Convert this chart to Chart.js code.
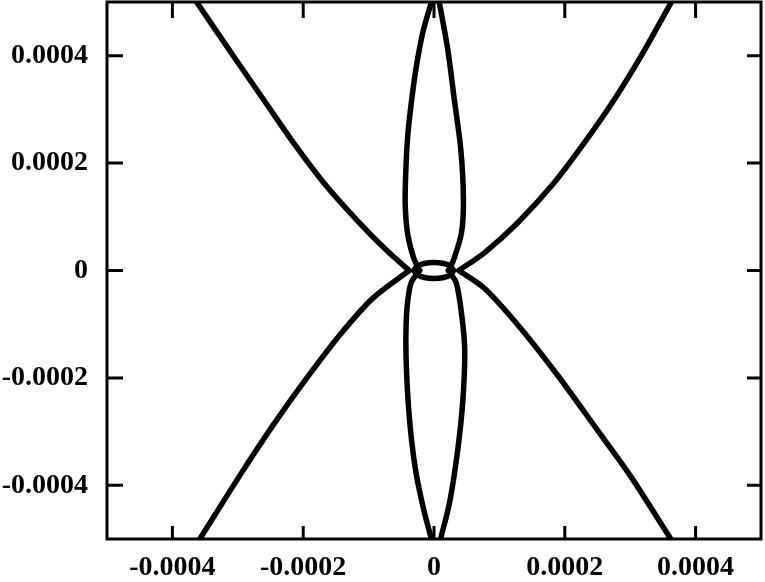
<!DOCTYPE html>
<html>
<head>
<meta charset="utf-8">
<script src="https://cdn.jsdelivr.net/npm/chart.js@4/dist/chart.umd.min.js"></script>
<style>
  html, body { margin: 0; padding: 0; background: #fff; }
  canvas { display: block; }
</style>
</head>
<body>
<canvas id="curves" width="765" height="582"></canvas>
<script>
// tick positions and labels
const xTicks = [-4e-4, -2e-4, 0, 2e-4, 4e-4];
const xTickLabels = ['-0.0004', '-0.0002', '0', '0.0002', '0.0004'];
const yTicks = [-4e-4, -2e-4, 0, 2e-4, 4e-4];
const yTickLabels = ['-0.0004', '-0.0002', '0', '0.0002', '0.0004'];

// diagonal branches ([x, y])
const armUpperLeft = [[-3.63e-4, 5.0e-4], [-3.07e-4, 4.0e-4], [-2.61e-4, 3.19e-4], [-2.15e-4, 2.38e-4], [-1.69e-4, 1.64e-4], [-1.18e-4, 0.94e-4], [-0.73e-4, 0.38e-4], [-0.38e-4, 0]];
const armLowerLeft = [[-0.38e-4, 0], [-0.93e-4, -0.51e-4], [-1.44e-4, -1.20e-4], [-1.95e-4, -2.01e-4], [-2.46e-4, -2.88e-4], [-2.97e-4, -3.82e-4], [-3.58e-4, -5.0e-4]];
const armUpperRight = [[3.63e-4, 5.0e-4], [3.17e-4, 4.0e-4], [2.76e-4, 3.19e-4], [2.30e-4, 2.38e-4], [1.84e-4, 1.64e-4], [1.28e-4, 0.89e-4], [0.77e-4, 0.33e-4], [0.38e-4, 0]];
const armLowerRight = [[0.38e-4, 0], [0.77e-4, -0.33e-4], [1.28e-4, -1.01e-4], [1.89e-4, -1.95e-4], [2.48e-4, -2.94e-4], [3.00e-4, -3.82e-4], [3.62e-4, -5.0e-4]];

// near-vertical branches (the two long leaves)
const leafUpperLeft = [[-0.04e-4, 5.0e-4], [-0.17e-4, 4.44e-4], [-0.27e-4, 3.80e-4], [-0.34e-4, 3.19e-4], [-0.40e-4, 2.53e-4], [-0.43e-4, 1.88e-4], [-0.44e-4, 1.22e-4], [-0.40e-4, 0.66e-4], [-0.31e-4, 0.23e-4], [-0.22e-4, 0]];
const leafLowerLeft = [[-0.22e-4, 0], [-0.35e-4, -0.23e-4], [-0.41e-4, -0.66e-4], [-0.43e-4, -1.22e-4], [-0.42e-4, -1.88e-4], [-0.39e-4, -2.53e-4], [-0.34e-4, -3.19e-4], [-0.27e-4, -3.80e-4], [-0.16e-4, -4.44e-4], [-0.04e-4, -5.0e-4]];
const leafUpperRight = [[0.08e-4, 5.0e-4], [0.21e-4, 4.12e-4], [0.31e-4, 3.19e-4], [0.41e-4, 2.25e-4], [0.45e-4, 1.32e-4], [0.42e-4, 0.70e-4], [0.30e-4, 0.20e-4], [0.22e-4, 0]];
const leafLowerRight = [[0.22e-4, 0], [0.34e-4, -0.23e-4], [0.43e-4, -0.89e-4], [0.47e-4, -1.50e-4], [0.44e-4, -2.44e-4], [0.36e-4, -3.37e-4], [0.24e-4, -4.31e-4], [0.10e-4, -5.0e-4]];

// small closed loop at the origin
const ring = [[0.30e-4, 0], [0.26e-4, 0.075e-4], [0.15e-4, 0.13e-4], [0, 0.15e-4], [-0.15e-4, 0.13e-4], [-0.26e-4, 0.075e-4], [-0.30e-4, 0], [-0.26e-4, -0.075e-4], [-0.15e-4, -0.13e-4], [0, -0.15e-4], [0.15e-4, -0.13e-4], [0.26e-4, -0.075e-4], [0.30e-4, 0]];

const curves = [armUpperLeft, armLowerLeft, armUpperRight, armLowerRight, leafUpperLeft, leafLowerLeft, leafUpperRight, leafLowerRight, ring];

const tickFont = { family: '"Liberation Serif", "Times New Roman", serif', weight: 'bold', size: 28 };

// frame on all four sides with inward ticks
const frameTicks = {
  id: 'frameTicks',
  afterDatasetsDraw(chart) {
    const { ctx, chartArea: a, scales: { x, y } } = chart;
    ctx.save();
    ctx.strokeStyle = '#000';
    ctx.lineWidth = 3;
    ctx.strokeRect(a.left, a.top, a.right - a.left, a.bottom - a.top);
    ctx.beginPath();
    xTicks.forEach(v => {
      const px = x.getPixelForValue(v);
      ctx.moveTo(px, a.bottom); ctx.lineTo(px, a.bottom - 13);
      ctx.moveTo(px, a.top); ctx.lineTo(px, a.top + 16);
    });
    yTicks.forEach(v => {
      const py = y.getPixelForValue(v);
      ctx.moveTo(a.left, py); ctx.lineTo(a.left + 16, py);
      ctx.moveTo(a.right, py); ctx.lineTo(a.right - 14, py);
    });
    ctx.stroke();
    ctx.restore();
  }
};

new Chart(document.getElementById('curves'), {
  type: 'scatter',
  data: {
    datasets: curves.map(c => ({
      data: c.map(([x, y]) => ({ x, y })),
      showLine: true,
      borderColor: '#000',
      borderWidth: 5.5,
      borderCapStyle: 'round',
      borderJoinStyle: 'round',
      pointRadius: 0,
      tension: 0.3,
      fill: false
    }))
  },
  options: {
    responsive: false,
    animation: false,
    devicePixelRatio: 1,
    layout: { padding: { top: 2, right: 4, left: 0, bottom: 0 } },
    plugins: { legend: { display: false }, tooltip: { enabled: false } },
    scales: {
      x: {
        type: 'linear', position: 'bottom', min: -5e-4, max: 5e-4,
        grid: { display: false, drawTicks: false },
        border: { display: false },
        afterBuildTicks: s => { s.ticks = xTicks.map(v => ({ value: v })); },
        afterFit: s => { s.height = 43; s.paddingLeft = 0; s.paddingRight = 0; },
        ticks: { color: '#000', font: tickFont, padding: 12, maxRotation: 0, autoSkip: false, callback: (v, i) => xTickLabels[i] }
      },
      y: {
        type: 'linear', position: 'left', min: -5e-4, max: 5e-4,
        grid: { display: false, drawTicks: false },
        border: { display: false },
        afterBuildTicks: s => { s.ticks = yTicks.map(v => ({ value: v })); },
        afterFit: s => { s.width = 107; s.paddingTop = 0; s.paddingBottom = 0; },
        ticks: { color: '#000', font: tickFont, padding: 19, autoSkip: false, callback: (v, i) => yTickLabels[i] }
      }
    }
  },
  plugins: [frameTicks]
});
</script>
</body>
</html>
